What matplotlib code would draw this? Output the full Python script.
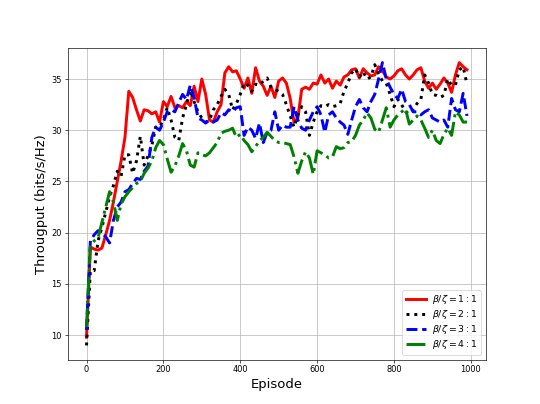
import numpy as np
import matplotlib
matplotlib.use("Agg")
import matplotlib.pyplot as plt


# Episodes (every 10)
episodes = np.arange(0, 1000, 10)

# Throughput for each beta/zeta ratio
thr_1 = [9.8, 18.6, 18.4, 18.3, 18.5, 19.8, 21.2, 23.0, 25.0, 27.0,
         29.3, 33.8, 33.2, 32.0, 30.9, 32.0, 31.9, 31.6, 31.8, 30.8,
         32.8, 32.3, 33.3, 32.2, 32.4, 32.2, 32.8, 32.4, 34.3, 32.8,
         35.0, 33.5, 31.0, 30.8, 31.8, 32.5, 35.6, 36.2, 35.7, 35.8,
         35.0, 34.1, 35.1, 33.6, 36.1, 34.8, 34.3, 33.4, 34.3, 33.2,
         34.8, 35.1, 34.6, 33.1, 30.8, 31.2, 34.0, 34.2, 34.0, 34.6,
         34.5, 35.4, 34.6, 35.0, 34.1, 34.8, 34.4, 35.2, 35.4, 35.9,
         36.0, 35.1, 36.0, 35.6, 35.3, 35.4, 36.2, 35.8, 35.2, 35.0,
         35.3, 35.8, 36.0, 35.4, 35.0, 35.4, 35.9, 36.1, 34.8, 34.1,
         34.6, 34.0, 34.5, 35.1, 34.6, 33.7, 35.4, 36.6, 36.2, 35.9]

thr_2 = [9.0, 16.3, 16.3, 19.2, 20.5, 22.0, 23.5, 24.6, 26.0, 25.5,
         27.6, 27.6, 25.8, 27.0, 29.4, 26.6, 27.5, 28.5, 30.3, 30.3,
         31.0, 32.2, 31.0, 29.3, 29.0, 31.2, 32.5, 33.9, 32.8, 31.8,
         31.2, 30.8, 31.0, 32.0, 32.5, 33.3, 34.0, 33.5, 32.0, 32.6,
         33.5, 34.6, 34.4, 33.8, 34.5, 34.4, 34.8, 35.1, 34.2, 34.0,
         33.8, 33.5, 32.5, 31.4, 30.3, 31.5, 32.3, 31.8, 29.5, 30.8,
         31.8, 32.4, 32.3, 32.5, 32.3, 32.4, 32.6, 33.8, 34.6, 35.6,
         36.0, 35.2, 35.7, 35.0, 35.2, 36.4, 35.5, 34.8, 34.6, 33.5,
         32.3, 33.0, 32.5, 31.8, 31.6, 32.0, 32.6, 33.0, 35.4, 34.6,
         33.5, 33.4, 33.2, 33.4, 35.0, 34.4, 34.4, 35.9, 36.2, 34.5]

thr_3 = [10.5, 19.2, 19.8, 20.2, 20.0, 19.6, 19.0, 21.2, 22.5, 23.0,
         24.0, 24.2, 24.8, 25.3, 25.2, 26.0, 26.5, 29.3, 30.3, 30.0,
         30.8, 31.8, 32.0, 31.8, 32.7, 33.5, 33.0, 34.4, 33.2, 31.2,
         31.0, 30.7, 31.0, 30.8, 31.0, 31.7, 31.5, 32.0, 31.8, 32.2,
         32.3, 29.5, 30.3, 30.0, 29.2, 30.7, 28.8, 29.8, 30.0, 31.8,
         30.0, 30.5, 30.3, 30.3, 32.3, 31.0, 30.2, 30.0, 31.0, 31.8,
         32.3, 31.5, 29.8, 31.5, 31.8, 31.2, 30.8, 30.5, 29.6, 31.0,
         32.3, 33.0, 32.2, 31.8, 32.8, 33.5, 35.0, 36.6, 35.0, 34.2,
         33.5, 33.1, 34.0, 32.8, 32.5, 31.8, 31.8, 31.5, 31.8, 32.0,
         31.2, 31.0, 30.8, 31.0, 30.3, 33.1, 32.0, 31.8, 33.6, 31.4]

thr_4 = [10.8, 18.8, 19.2, 19.5, 21.0, 22.5, 24.0, 23.0, 21.2, 22.8,
         23.5, 24.0, 24.4, 24.8, 25.0, 25.8, 26.3, 27.0, 28.3, 29.0,
         28.6, 27.2, 25.9, 26.5, 27.5, 28.7, 28.0, 26.6, 26.4, 27.8,
         27.6, 27.5, 27.8, 28.3, 28.8, 29.7, 29.9, 30.0, 30.2, 29.3,
         29.6, 29.0, 28.6, 27.9, 28.4, 29.0, 29.3, 29.8, 29.4, 29.0,
         28.8, 28.8, 28.7, 28.6, 27.4, 25.8, 27.0, 27.9, 27.3, 25.7,
         28.0, 27.8, 27.6, 27.3, 27.4, 28.4, 28.2, 28.3, 28.8, 28.9,
         29.5, 30.5, 31.0, 31.7, 31.2, 30.1, 29.8, 31.0, 32.2, 30.3,
         31.0, 31.5, 31.8, 32.1, 30.6, 31.0, 31.4, 31.0, 30.2, 29.3,
         30.0, 29.0, 28.7, 29.6, 30.2, 29.5, 31.8, 31.5, 30.8, 30.8]

labels = [r"$\beta/\zeta=1:1$", r"$\beta/\zeta=2:1$",
          r"$\beta/\zeta=3:1$", r"$\beta/\zeta=4:1$"]


# big figure, low dpi -> small text like the original
dpi = 59.08
fig = plt.figure(figsize=(540 / dpi, 404 / dpi), dpi=dpi)

plt.plot(episodes, thr_1, "r-", linewidth=3.6, label=labels[0])
plt.plot(episodes, thr_2, "k:", linewidth=3.6, label=labels[1])
plt.plot(episodes, thr_3, "b--", linewidth=3.6, label=labels[2])
plt.plot(episodes, thr_4, "g-.", linewidth=3.6, label=labels[3])

plt.xlabel("Episode", fontsize=16)
plt.ylabel("Througput (bits/s/Hz)", fontsize=16)
plt.grid(True)
plt.legend(loc="lower right", fontsize=11.5, labelspacing=0.2,
           handletextpad=0.6, handlelength=2.2)

plt.savefig("out.png", dpi=dpi)
